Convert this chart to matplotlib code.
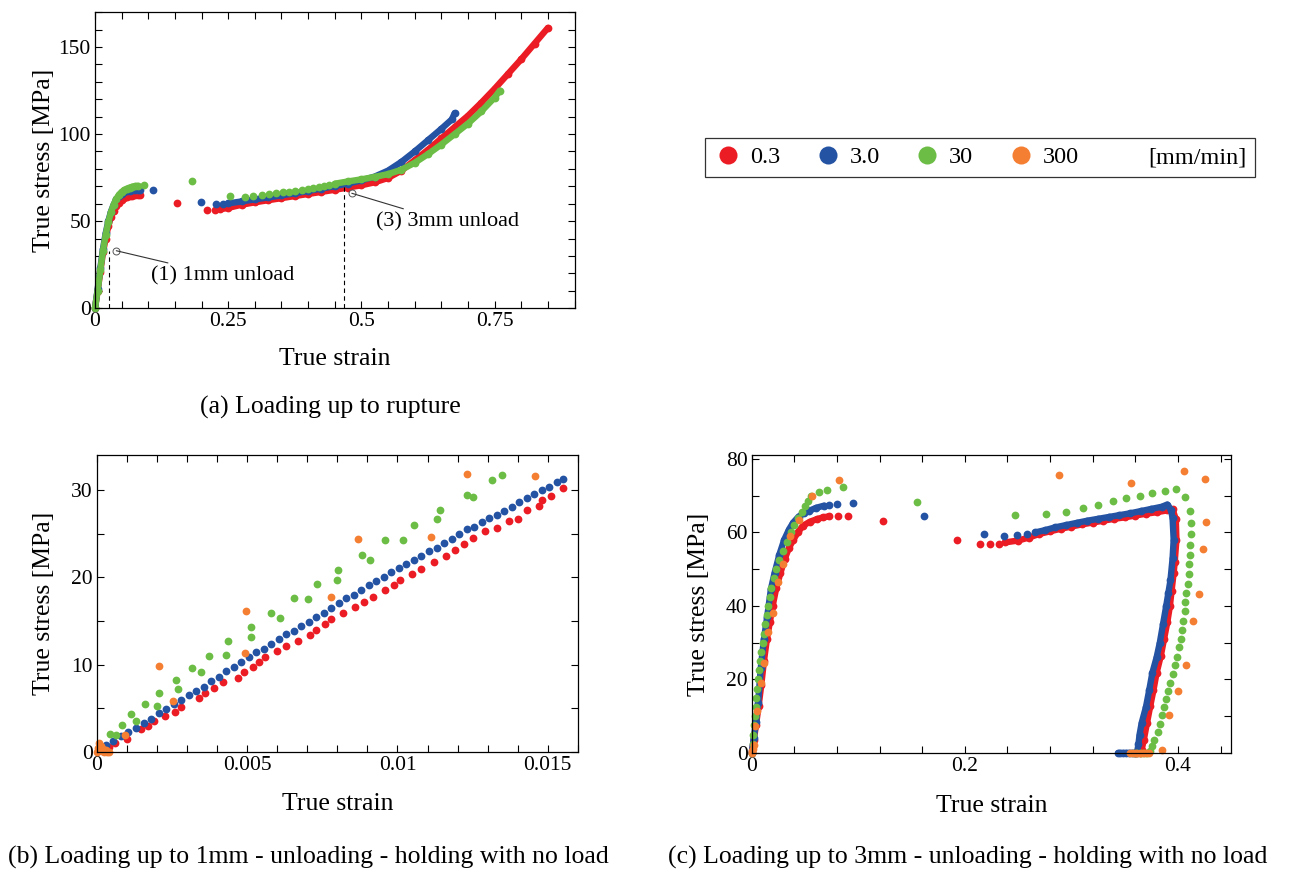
import numpy as np
import matplotlib
matplotlib.use('Agg')
import matplotlib.pyplot as plt
from matplotlib.lines import Line2D
from matplotlib.ticker import MultipleLocator

plt.rcParams['font.family'] = ['Liberation Serif', 'DejaVu Serif']
plt.rcParams['mathtext.fontset'] = 'stix'

#   Colours of the four crosshead speeds
c_red = '#ec1c24'
c_blue = '#2553a3'
c_green = '#6cbd45'
c_orange = '#f47f33'

speeds = ['0.3', '3.0', '30', '300']
unit_label = '[mm/min]'

##
#   (a) Loading up to rupture
red_a_load_x = [0, 0.005, 0.01, 0.015, 0.02, 0.025, 0.03, 0.035, 0.04, 0.045, 0.05, 0.055, 0.06, 0.065, 0.07, 0.075, 0.08]
red_a_load_y = [0, 10, 21, 32, 40, 47, 52.5, 56, 58.5, 60.5, 62, 63, 63.8, 64.3, 64.6, 64.8, 65]
red_a_pts_x = [0.085, 0.154, 0.211, 0.226]
red_a_pts_y = [65, 60.5, 56.5, 56.5]
red_a_hard_x = [0.235, 0.25, 0.275, 0.3, 0.325, 0.35, 0.375, 0.4, 0.425, 0.45, 0.475, 0.5, 0.525, 0.55,
                0.575, 0.6, 0.625, 0.65, 0.675, 0.7, 0.725, 0.75, 0.775, 0.8, 0.825, 0.85]
red_a_hard_y = [56.8, 57.6, 59.4, 60.8, 62, 63.2, 64.4, 65.6, 66.8, 68, 69.3, 70.6, 72.3, 74.8,
                79, 85, 91, 97.5, 104, 110.5, 118, 126, 134.5, 143, 152, 161]

blue_a_load_x = [0, 0.005, 0.01, 0.015, 0.02, 0.025, 0.03, 0.035, 0.04, 0.045, 0.05, 0.055, 0.06, 0.065, 0.07, 0.075, 0.08]
blue_a_load_y = [0, 11, 23, 34, 43, 50, 55.5, 59.5, 62.5, 64.5, 65.8, 66.6, 67.1, 67.4, 67.6, 67.8, 67.9]
blue_a_pts_x = [0.084, 0.108, 0.199, 0.227, 0.241]
blue_a_pts_y = [68, 67.8, 61, 59.8, 60]
blue_a_hard_x = [0.25, 0.275, 0.3, 0.325, 0.35, 0.375, 0.4, 0.425, 0.45, 0.475, 0.5, 0.525, 0.55, 0.575,
                 0.6, 0.625, 0.65, 0.67, 0.675]
blue_a_hard_y = [60.2, 61.3, 62.5, 63.6, 64.8, 66, 67.3, 68.7, 70.1, 71.6, 73.4, 75.6, 79, 84,
                 90, 96.5, 103, 108.5, 112]

green_a_load_x = [0, 0.005, 0.01, 0.015, 0.02, 0.025, 0.03, 0.035, 0.04, 0.045, 0.05, 0.055, 0.06, 0.065, 0.07, 0.075, 0.08]
green_a_load_y = [0, 10, 22, 33, 42, 49.5, 55, 59.5, 62.8, 65.2, 66.8, 67.9, 68.7, 69.3, 69.8, 70.1, 70.3]
green_a_pts_x = [0.092, 0.183, 0.254, 0.281, 0.297, 0.313, 0.327, 0.34, 0.353, 0.365, 0.376, 0.388,
                 0.399, 0.41, 0.42, 0.43, 0.44]
green_a_pts_y = [70.7, 73.2, 64.6, 63.6, 64.2, 64.8, 65.3, 65.9, 66.5, 67, 67.5, 68,
                 68.5, 69, 69.5, 70, 70.5]
green_a_hard_x = [0.45, 0.475, 0.5, 0.525, 0.55, 0.575, 0.6, 0.625, 0.65, 0.675, 0.7, 0.725, 0.75, 0.76]
green_a_hard_y = [71.5, 72.8, 74, 75.4, 77, 79.5, 83.5, 88.5, 94, 100, 106, 113, 121, 125]

unload1_strain = 0.027
unload1_stress = 33
unload3_strain = 0.468
unload3_stress = 70

##
#   (b) Loading up to 1mm - unloading - holding
blue_b_x = [0.0002, 0.0003, 0.00055, 0.0008, 0.00105, 0.0013, 0.00155, 0.0018, 0.00205, 0.0023, 0.00255,
            0.0028, 0.00305, 0.0033, 0.00355, 0.0038, 0.00405, 0.0043, 0.00455, 0.0048, 0.00505,
            0.0053, 0.00555, 0.0058, 0.00605, 0.0063, 0.00655, 0.0068, 0.00705, 0.0073, 0.00755,
            0.0078, 0.00805, 0.0083, 0.00855, 0.0088, 0.00905, 0.0093, 0.00955, 0.0098, 0.01005,
            0.0103, 0.01055, 0.0108, 0.01105, 0.0113, 0.01155, 0.0118, 0.01205, 0.0123, 0.01255,
            0.0128, 0.01305, 0.0133, 0.01355, 0.0138, 0.01405, 0.0143, 0.01455, 0.0148, 0.01505,
            0.0153, 0.0155]
blue_b_y = [0.1, 0.8, 1.3, 1.8, 2.3, 2.7, 3.3, 3.8, 4.5, 4.9, 5.5,
            5.9, 6.5, 7.0, 7.5, 8.1, 8.6, 9.3, 9.7, 10.3, 10.9,
            11.4, 11.8, 12.4, 12.9, 13.5, 13.9, 14.4, 14.9, 15.5, 15.9,
            16.5, 17.1, 17.6, 18.0, 18.6, 19.1, 19.6, 20.0, 20.6, 21.1,
            21.5, 22.0, 22.5, 23.0, 23.4, 23.9, 24.4, 25.0, 25.5, 25.8,
            26.3, 26.8, 27.2, 27.6, 28.1, 28.6, 29.1, 29.6, 30.0, 30.4,
            30.9, 31.3]

red_b_x = [0.0002, 0.0004, 0.0006, 0.001, 0.00147, 0.0017, 0.0019, 0.00226, 0.0026, 0.0028, 0.0034, 0.0036,
           0.0039, 0.0042, 0.0047, 0.0049, 0.0052, 0.0054, 0.0056, 0.006, 0.0063, 0.0067, 0.0071,
           0.0073, 0.0076, 0.0078, 0.0082, 0.0086, 0.0089, 0.0092, 0.0096, 0.0099, 0.0101, 0.0105,
           0.0108, 0.0112, 0.0116, 0.0119, 0.0122, 0.0125, 0.0129, 0.0133, 0.0137, 0.014, 0.0143,
           0.0147, 0.0148, 0.0151, 0.0155]
red_b_y = [0.2, 0.6, 1.0, 1.5, 2.6, 3.0, 3.6, 4.1, 4.6, 5.2, 6.2, 6.8,
           7.3, 8.0, 8.5, 9.2, 9.7, 10.3, 10.9, 11.6, 12.1, 12.7, 13.4,
           14.0, 14.7, 15.2, 15.9, 16.6, 17.2, 17.8, 18.5, 19.1, 19.7, 20.4,
           21.0, 21.8, 22.4, 23.1, 23.8, 24.5, 25.3, 25.7, 26.5, 26.7, 27.7,
           28.2, 28.9, 29.3, 30.2]

green_b_x = [0.00045, 0.00064, 0.00083, 0.00115, 0.0013, 0.0016, 0.002, 0.00205, 0.00264, 0.0027, 0.00316,
             0.00347, 0.00374, 0.0043, 0.00437, 0.00513, 0.00513, 0.0058, 0.0061, 0.00657, 0.00704,
             0.00731, 0.008, 0.00802, 0.00883, 0.00908, 0.00957, 0.01018, 0.01054, 0.01131, 0.0114,
             0.01231, 0.01251, 0.01316, 0.01349]
green_b_y = [2.06, 1.9, 3.1, 4.3, 3.5, 5.5, 5.3, 6.8, 8.2, 7.2, 9.6,
             9.2, 11.0, 11.1, 12.7, 13.2, 14.3, 15.9, 15.3, 17.6, 17.5,
             19.2, 19.7, 20.9, 22.6, 22.0, 24.3, 24.3, 26.0, 26.7, 27.7,
             29.4, 29.2, 31.2, 31.7]

orange_b_x = [0.0, 0.00003, 0.00006, 0.0001, 0.00012, 0.00016, 0.0002, 0.00025, 0.0003, 0.00035, 0.0004,
              0.00092, 0.00207, 0.00253, 0.00492, 0.00495, 0.00778, 0.0087, 0.01111, 0.0123, 0.01458]
orange_b_y = [0.0, 0.5, 1.0, 0.3, 0.7, 0.1, 0.4, 0.0, 0.2, 0.0, 0.0,
              1.9, 9.9, 5.8, 11.3, 16.1, 17.7, 24.4, 24.6, 31.8, 31.6]

##
#   (c) Loading up to 3mm - unloading - holding
red_c_load_x = [0, 0.002, 0.004, 0.0065, 0.009, 0.0115, 0.0143, 0.017, 0.0197, 0.023, 0.027, 0.031,
                0.035, 0.039, 0.0435, 0.048, 0.0545, 0.061, 0.067, 0.073]
red_c_load_y = [0, 3.5, 7.5, 12.7, 18.5, 25, 31, 35.5, 40, 44.8, 49, 52.8,
                55.8, 58, 60.1, 61.8, 62.9, 63.6, 64.1, 64.4]
red_c_pts_x = [0.0806, 0.0903, 0.123, 0.193, 0.214, 0.224, 0.232]
red_c_pts_y = [64.5, 64.5, 63.2, 57.9, 56.8, 56.8, 56.8]
red_c_hard_x = [0.238, 0.25, 0.26, 0.27, 0.28, 0.29, 0.3, 0.31, 0.32, 0.33, 0.34, 0.35, 0.36, 0.37,
                0.38, 0.39, 0.395, 0.398, 0.3986, 0.397, 0.396, 0.394, 0.3925, 0.39, 0.387, 0.384,
                0.38, 0.377, 0.374, 0.371, 0.368, 0.366, 0.364, 0.362, 0.36]
red_c_hard_y = [57.3, 57.8, 58.6, 59.6, 60.3, 61, 61.6, 62.2, 62.7, 63.2, 63.7, 64.1, 64.6, 65.1,
                65.5, 66, 66.3, 63.6, 58, 52, 49, 44, 40, 35.5, 31, 26.5,
                21.8, 17, 12.7, 8.2, 3.6, 0.9, 0, 0, 0]

blue_c_load_x = [0, 0.002, 0.004, 0.006, 0.0085, 0.0115, 0.0145, 0.018, 0.0215, 0.026, 0.0305, 0.035,
                 0.039, 0.044, 0.049, 0.054, 0.0605, 0.068]
blue_c_load_y = [0, 4, 8.5, 13.5, 23, 31, 37, 44.5, 49, 54, 58, 60.8,
                 62.7, 64.3, 65.3, 65.9, 66.7, 67.3]
blue_c_pts_x = [0.0728, 0.08, 0.095, 0.162, 0.218, 0.2366, 0.249, 0.258]
blue_c_pts_y = [67.5, 67.7, 67.9, 64.5, 59.7, 59.1, 59.3, 59.5]
blue_c_hard_x = [0.266, 0.275, 0.285, 0.295, 0.305, 0.315, 0.325, 0.335, 0.345, 0.355, 0.365, 0.375,
                 0.385, 0.39, 0.3935, 0.395, 0.396, 0.395, 0.393, 0.391, 0.389, 0.386, 0.383, 0.38,
                 0.376, 0.373, 0.37, 0.366, 0.364, 0.363, 0.362, 0.36, 0.357, 0.354, 0.351, 0.348,
                 0.346, 0.344]
blue_c_hard_y = [60, 60.6, 61.4, 62, 62.6, 63.2, 63.7, 64.2, 64.7, 65.2, 65.8, 66.4,
                 67, 67.6, 66.2, 63.8, 58, 53, 47, 43.5, 40, 35, 30, 26,
                 21.8, 17, 12.5, 8.2, 5, 2.5, 0.5, 0, 0, 0, 0, 0,
                 0, 0]

green_c_x = [0.0, 0.0008, 0.0015, 0.0022, 0.0029, 0.0036, 0.0045, 0.0053, 0.006, 0.0068, 0.0078, 0.0088,
             0.0103, 0.0114, 0.0126, 0.014, 0.0154, 0.0168, 0.0185, 0.0205, 0.023, 0.026, 0.0295, 0.033,
             0.037, 0.040, 0.0435, 0.047, 0.05, 0.053, 0.056, 0.063, 0.071, 0.086, 0.155, 0.247,
             0.276, 0.295, 0.311, 0.325, 0.339, 0.351, 0.3645, 0.376, 0.388, 0.3986, 0.407, 0.411,
             0.412, 0.412, 0.4115, 0.411, 0.41, 0.41, 0.409, 0.408, 0.407, 0.4065, 0.405, 0.404,
             0.4025, 0.4007, 0.399, 0.397, 0.395, 0.393, 0.391, 0.389, 0.387, 0.385, 0.383, 0.381,
             0.378, 0.376, 0.374, 0.371, 0.368, 0.365, 0.362, 0.359]
green_c_y = [0, 2.5, 5, 7.5, 10, 12.5, 15, 17.5, 20, 22.5, 25, 27.5,
             30, 32.5, 35, 37.5, 40, 42.5, 45, 47.5, 50, 52.5, 55, 57.5,
             60, 62, 64, 65.7, 67.3, 68.6, 69.8, 70.9, 71.6, 72.3, 68.4, 64.8,
             64.9, 65.7, 66.7, 67.5, 68.5, 69.3, 69.9, 70.6, 71.2, 71.8, 69.7, 65.9,
             62.5, 59.5, 56.7, 54, 51.3, 48.6, 46.1, 43.5, 41.1, 38.5, 36, 33.5,
             31.1, 28.7, 26.2, 23.9, 21.5, 19.1, 16.9, 14.7, 12.5, 10.2, 8.0, 5.7,
             3.6, 1.8, 0.5, 0, 0, 0, 0, 0]

orange_c_x = [0.0, 0.0005, 0.001, 0.002, 0.003, 0.0054, 0.009, 0.0118, 0.0154, 0.0197, 0.0244, 0.0294,
              0.0358, 0.0441, 0.0566, 0.0824, 0.2885, 0.3556, 0.4057, 0.4254, 0.4265, 0.4237, 0.4194,
              0.414, 0.408, 0.4004, 0.3918, 0.3846, 0.373, 0.37, 0.367, 0.364, 0.361, 0.358, 0.355]
orange_c_y = [0.0, 0.5, 1.2, 2.3, 7.3, 11.4, 19.1, 24.4, 32.9, 38.2, 46.4, 51.4,
              59.1, 63.5, 69.8, 74.3, 75.5, 73.4, 76.6, 74.5, 62.9, 55.5, 43.2,
              35.9, 23.9, 16.8, 10.2, 0.9, 0, 0, 0, 0, 0, 0, 0]

ms = 5.6
band = 4.6


def dots(ax, x, y, c):
    ax.plot(x, y, 'o', color=c, ms=ms, mew=0, clip_on=False)


def dense(ax, x, y, c):
    ax.plot(x, y, 'o-', color=c, ms=ms, mew=0, lw=band, solid_capstyle='round', clip_on=False)


def style_axes(ax, xlim, ylim, xmaj, xmin, ymaj, ymin, ylab_x, xlab_y):
    ax.set_xlim(*xlim)
    ax.set_ylim(*ylim)
    ax.xaxis.set_major_locator(MultipleLocator(xmaj))
    ax.xaxis.set_minor_locator(MultipleLocator(xmin))
    ax.yaxis.set_major_locator(MultipleLocator(ymaj))
    ax.yaxis.set_minor_locator(MultipleLocator(ymin))
    ax.tick_params(which='both', direction='in', top=True, right=True, labelsize=15.5, width=0.8)
    ax.tick_params(which='major', length=5, pad=3)
    ax.tick_params(which='minor', length=5)
    for s in ax.spines.values():
        s.set_linewidth(0.9)
    ax.set_xlabel('True strain', fontsize=18.5)
    ax.set_ylabel('True stress [MPa]', fontsize=18.5)
    ax.yaxis.set_label_coords(ylab_x, 0.5)
    ax.xaxis.set_label_coords(0.5, xlab_y)


fig = plt.figure(figsize=(12.96, 8.73), dpi=100)
ax_a = fig.add_axes([0.0733, 0.647, 0.370, 0.339])
ax_b = fig.add_axes([0.0748, 0.1386, 0.371, 0.340])
ax_c = fig.add_axes([0.580, 0.1375, 0.370, 0.341])

#   Panel (a)
dense(ax_a, red_a_load_x, red_a_load_y, c_red)
dots(ax_a, red_a_pts_x, red_a_pts_y, c_red)
dense(ax_a, red_a_hard_x, red_a_hard_y, c_red)
dense(ax_a, blue_a_load_x, blue_a_load_y, c_blue)
dots(ax_a, blue_a_pts_x, blue_a_pts_y, c_blue)
dense(ax_a, blue_a_hard_x, blue_a_hard_y, c_blue)
dense(ax_a, green_a_load_x, green_a_load_y, c_green)
dots(ax_a, green_a_pts_x, green_a_pts_y, c_green)
dense(ax_a, green_a_hard_x, green_a_hard_y, c_green)

ax_a.plot([unload1_strain, unload1_strain], [0, unload1_stress], 'k--', lw=0.8, dashes=(4, 3))
ax_a.plot([unload3_strain, unload3_strain], [0, unload3_stress], 'k--', lw=0.8, dashes=(4, 3))
ax_a.annotate('(1) 1mm unload', xy=(0.04, 33), xytext=(0.106, 18.5), fontsize=16, va='center',
              arrowprops=dict(arrowstyle='-', lw=0.8, color='#333333', shrinkA=2, shrinkB=0))
ax_a.annotate('(3) 3mm unload', xy=(0.482, 66), xytext=(0.527, 49.5), fontsize=16, va='center',
              arrowprops=dict(arrowstyle='-', lw=0.8, color='#333333', shrinkA=2, shrinkB=0))
ax_a.plot([0.04, 0.482], [33, 66], 'o', ms=5, mfc='white', mec='#555555', mew=0.7)
style_axes(ax_a, (0, 0.9), (0, 170), 0.25, 0.05, 50, 10, -0.083, -0.135)

#   Panel (b)
dots(ax_b, red_b_x, red_b_y, c_red)
dots(ax_b, blue_b_x, blue_b_y, c_blue)
dots(ax_b, green_b_x, green_b_y, c_green)
dots(ax_b, orange_b_x, orange_b_y, c_orange)
style_axes(ax_b, (0, 0.016), (0, 34), 0.005, 0.001, 10, 5, -0.087, -0.138)
ax_b.set_xticks([0, 0.005, 0.01, 0.015])
ax_b.set_xticklabels(['0', '0.005', '0.01', '0.015'])

#   Panel (c)
dense(ax_c, red_c_load_x, red_c_load_y, c_red)
dots(ax_c, red_c_pts_x, red_c_pts_y, c_red)
dense(ax_c, red_c_hard_x, red_c_hard_y, c_red)
dense(ax_c, blue_c_load_x, blue_c_load_y, c_blue)
dots(ax_c, blue_c_pts_x, blue_c_pts_y, c_blue)
dense(ax_c, blue_c_hard_x, blue_c_hard_y, c_blue)
dots(ax_c, green_c_x, green_c_y, c_green)
dots(ax_c, orange_c_x, orange_c_y, c_orange)
style_axes(ax_c, (0, 0.45), (0, 81), 0.2, 0.04, 20, 10, -0.0875, -0.141)

ax_a.set_xticks([0, 0.25, 0.5, 0.75])
ax_a.set_xticklabels(['0', '0.25', '0.5', '0.75'])
ax_c.set_xticks([0, 0.2, 0.4])
ax_c.set_xticklabels(['0', '0.2', '0.4'])

#   Legend
handles = [Line2D([], [], marker='o', ls='', color=c, ms=13, mew=0) for c in [c_red, c_blue, c_green, c_orange]]
handles.append(Line2D([], [], ls='', marker=''))
leg = fig.legend(handles, speeds + [unit_label], loc='center', bbox_to_anchor=(0.756, 0.82), ncol=5,
                 fontsize=17.5, frameon=True, fancybox=False, edgecolor='black', handletextpad=0.3,
                 columnspacing=1.35, handlelength=1.2, borderpad=0.35)
leg.get_frame().set_linewidth(0.9)

#   Captions
fig.text(0.255, 0.533, '(a) Loading up to rupture', ha='center', va='center', fontsize=18.5)
fig.text(0.238, 0.0183, '(b) Loading up to 1mm - unloading - holding with no load', ha='center', va='center', fontsize=18.5)
fig.text(0.747, 0.0183, '(c) Loading up to 3mm - unloading - holding with no load', ha='center', va='center', fontsize=18.5)

fig.savefig('out.png', dpi=100)
